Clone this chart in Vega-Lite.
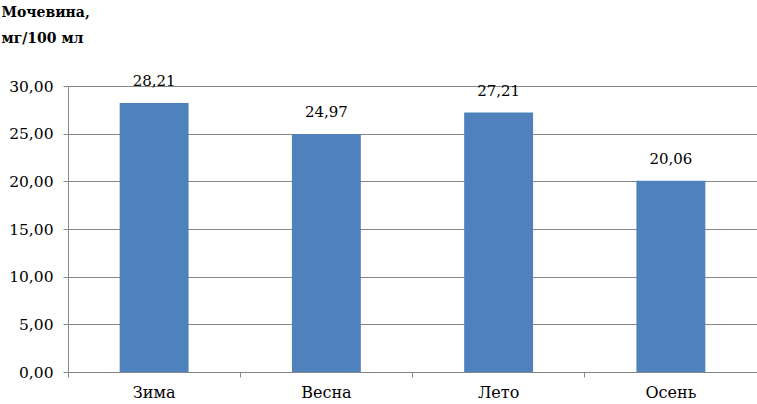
{
  "$schema": "https://vega.github.io/schema/vega-lite/v6.json",
  "autosize": "none",
  "width": 689,
  "height": 286,
  "padding": {"left": 68, "top": 86, "right": 0, "bottom": 32},
  "background": "white",
  "config": {
    "locale": {"number": {"decimal": ",", "thousands": " ", "grouping": [3], "currency": ["", ""]}},
    "view": {"stroke": null},
    "font": "DejaVu Serif"
  },
  "data": {
    "values": [
      {"season": "Зима", "value": 28.21},
      {"season": "Весна", "value": 24.97},
      {"season": "Лето", "value": 27.21},
      {"season": "Осень", "value": 20.06}
    ]
  },
  "encoding": {
    "x": {
      "field": "season", "type": "nominal", "sort": null,
      "scale": {"paddingInner": 0, "paddingOuter": 0},
      "axis": {
        "title": null, "labelAngle": 0, "labelFont": "DejaVu Serif", "labelFontSize": 16,
        "labelColor": "#000", "labelPadding": 7, "bandPosition": 0,
        "domainColor": "#868686", "tickColor": "#868686", "tickSize": 5, "grid": false
      }
    },
    "y": {
      "field": "value", "type": "quantitative",
      "scale": {"domain": [0, 30]},
      "axis": {
        "values": [0, 5, 10, 15, 20, 25, 30], "format": ".2f",
        "labelFont": "DejaVu Serif", "labelFontSize": 15.5, "labelColor": "#000", "labelPadding": 10,
        "domainColor": "#868686", "tickColor": "#868686", "tickSize": 5,
        "gridColor": "#868686", "gridWidth": 1,
        "title": ["Мочевина,", "мг/100 мл"], "titleAngle": 0, "titleAlign": "left", "titleBaseline": "alphabetic",
        "titleX": -67, "titleY": -70, "titleFont": "DejaVu Serif", "titleFontSize": 14,
        "titleFontWeight": "bold", "titleColor": "#000", "titleLineHeight": 26
      }
    }
  },
  "layer": [
    {"mark": {"type": "bar", "color": "#4F81BD", "width": {"band": 0.4}}},
    {
      "mark": {"type": "text", "baseline": "alphabetic", "dy": -17, "fontSize": 15, "font": "DejaVu Serif", "color": "#000"},
      "encoding": {"text": {"field": "value", "type": "quantitative", "format": ".2f"}}
    }
  ]
}
